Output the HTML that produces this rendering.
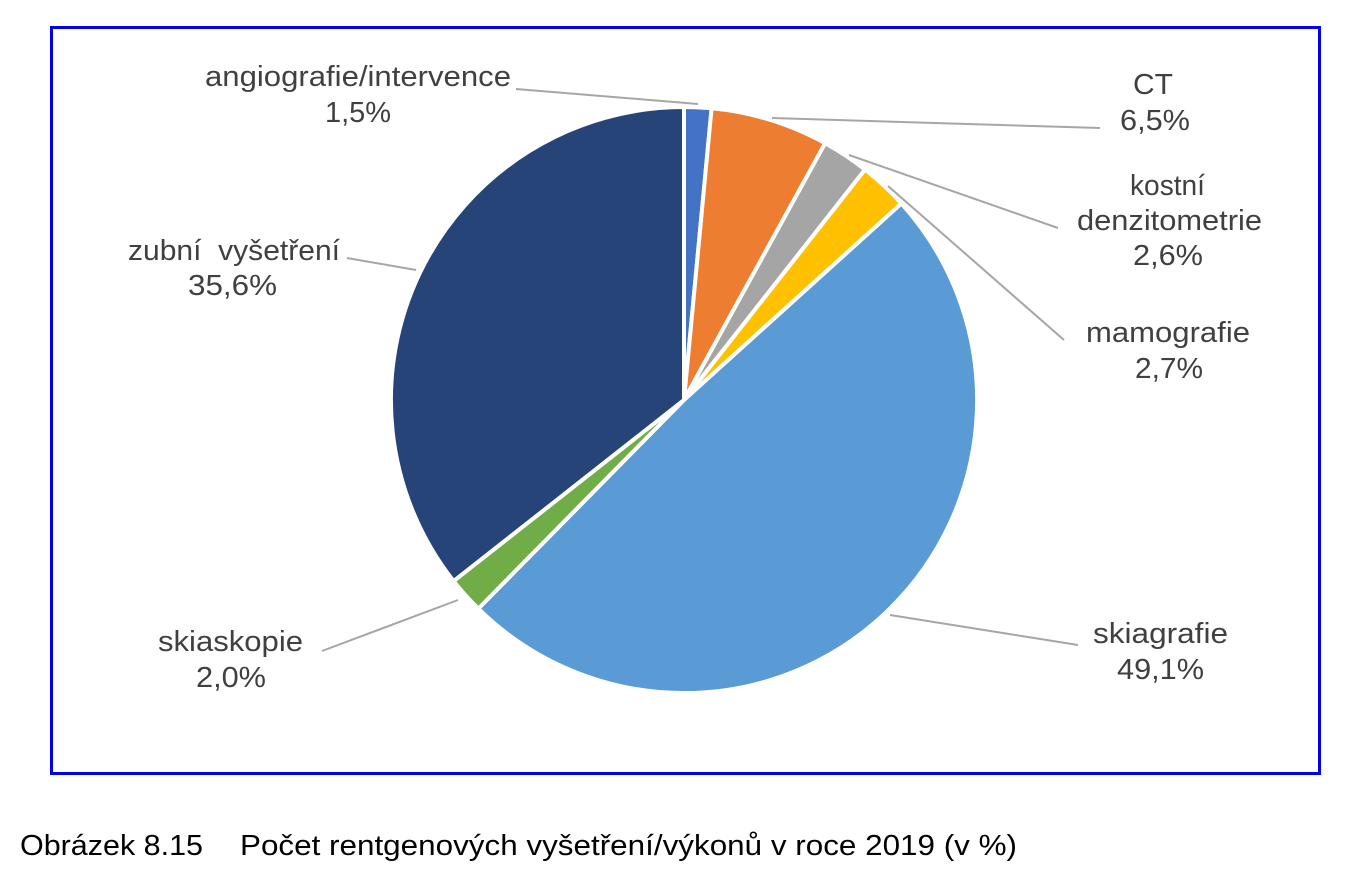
<!DOCTYPE html>
<html><head><meta charset="utf-8"><style>
html,body{margin:0;padding:0;background:#fff;}
body{width:1360px;height:888px;overflow:hidden;position:relative;}
text{font-family:"Liberation Sans",Arial,sans-serif;}
</style></head><body>
<svg width="1360" height="888" xmlns="http://www.w3.org/2000/svg" style="position:absolute;left:0;top:0">
<rect x="51.5" y="27.5" width="1268" height="746" fill="#fff" stroke="#0000EE" stroke-width="3"/>
<g stroke="#fff" stroke-width="4" stroke-linejoin="round">
<path d="M684,400 L684,107 A293,293 0 0 1 711.6,108.3 Z" fill="#4472C4"/>
<path d="M684,400 L711.6,108.3 A293,293 0 0 1 825.2,143.2 Z" fill="#ED7D31"/>
<path d="M684,400 L825.2,143.2 A293,293 0 0 1 865.0,169.6 Z" fill="#A5A5A5"/>
<path d="M684,400 L865.0,169.6 A293,293 0 0 1 901.4,203.5 Z" fill="#FFC000"/>
<path d="M684,400 L901.4,203.5 A293,293 0 0 1 478.3,608.6 Z" fill="#5B9BD5"/>
<path d="M684,400 L478.3,608.6 A293,293 0 0 1 453.6,581.1 Z" fill="#70AD47"/>
<path d="M684,400 L453.6,581.1 A293,293 0 0 1 684,107 Z" fill="#264478"/>
</g>
<g stroke="#A6A6A6" stroke-width="2" fill="none">
<polyline points="516,89 698,104"/>
<polyline points="772,118 1100,128"/>
<polyline points="849,155 1058,228"/>
<polyline points="888,186 1064,340"/>
<polyline points="890,615 1078,645"/>
<polyline points="458,600 322,651"/>
<polyline points="416,270 347,258"/>
</g>
<g font-size="29" fill="#404040">
<text x="205" y="86" textLength="306" lengthAdjust="spacingAndGlyphs">angiografie/intervence</text>
<text x="325" y="122" textLength="66" lengthAdjust="spacingAndGlyphs">1,5%</text>
<text x="1133" y="94" textLength="40" lengthAdjust="spacingAndGlyphs">CT</text>
<text x="1120" y="130" textLength="70" lengthAdjust="spacingAndGlyphs">6,5%</text>
<text x="1130" y="195" textLength="75" lengthAdjust="spacingAndGlyphs">kostní</text>
<text x="1077" y="230" textLength="185" lengthAdjust="spacingAndGlyphs">denzitometrie</text>
<text x="1133" y="265" textLength="70" lengthAdjust="spacingAndGlyphs">2,6%</text>
<text x="1086" y="342" textLength="164" lengthAdjust="spacingAndGlyphs">mamografie</text>
<text x="1135" y="378" textLength="68" lengthAdjust="spacingAndGlyphs">2,7%</text>
<text x="1093" y="643" textLength="135" lengthAdjust="spacingAndGlyphs">skiagrafie</text>
<text x="1117" y="679" textLength="87" lengthAdjust="spacingAndGlyphs">49,1%</text>
<text x="158" y="651" textLength="145" lengthAdjust="spacingAndGlyphs">skiaskopie</text>
<text x="196" y="687" textLength="70" lengthAdjust="spacingAndGlyphs">2,0%</text>
<text x="128" y="260" textLength="212" lengthAdjust="spacingAndGlyphs">zubní&#160; vyšetření</text>
<text x="188" y="295" textLength="89" lengthAdjust="spacingAndGlyphs">35,6%</text>
</g>
<text x="20" y="855" font-size="29" fill="#000" textLength="183" lengthAdjust="spacingAndGlyphs">Obrázek 8.15</text>
<text x="240" y="855" font-size="29" fill="#000" textLength="777" lengthAdjust="spacingAndGlyphs">Počet rentgenových vyšetření/výkonů v roce 2019 (v %)</text>
</svg>
</body></html>
